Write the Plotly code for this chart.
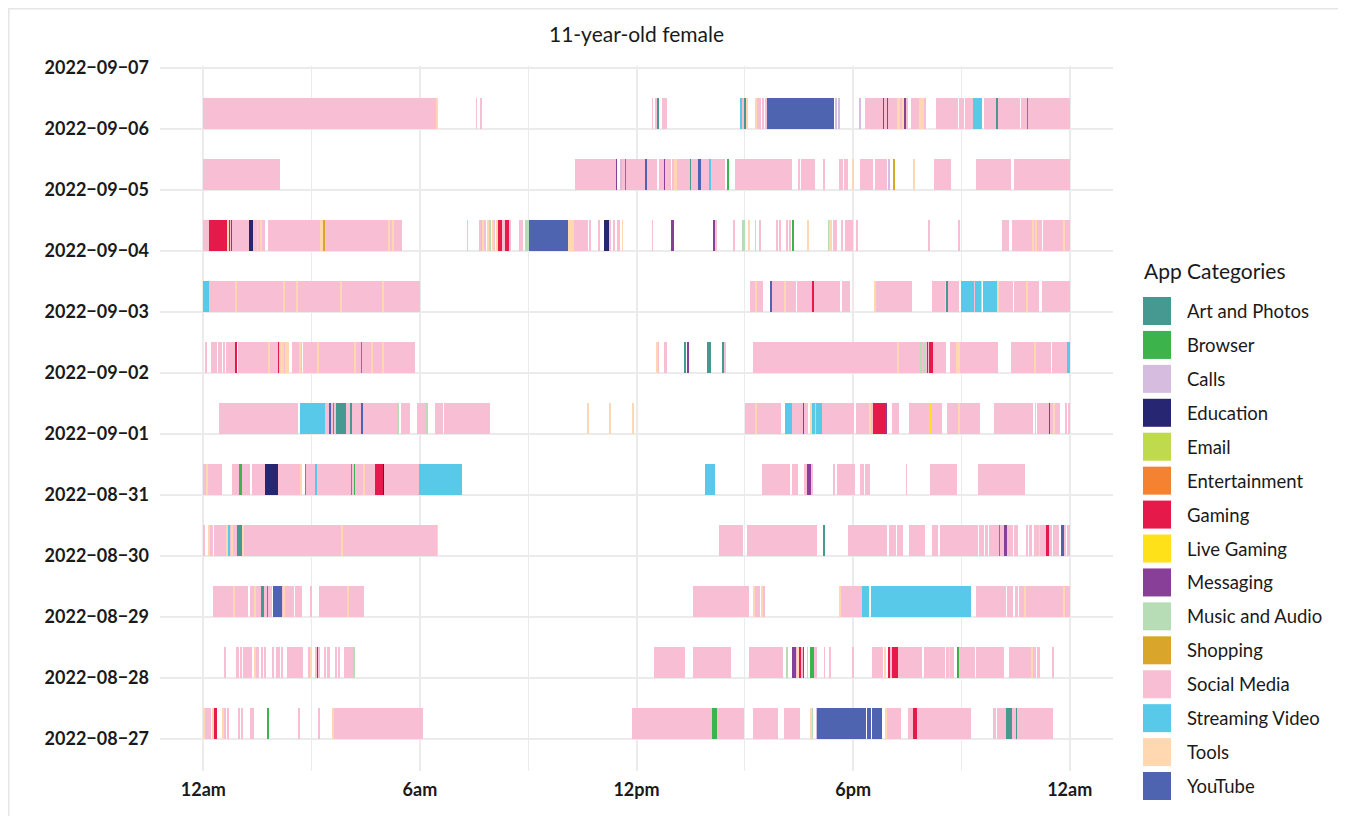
import plotly.graph_objects as go

# ---------------- data ----------------
days = ["2022-08-27", "2022-08-28", "2022-08-29", "2022-08-30", "2022-08-31",
        "2022-09-01", "2022-09-02", "2022-09-03", "2022-09-04", "2022-09-05",
        "2022-09-06"]
tick_dates = days + ["2022-09-07"]

categories = ["Art and Photos", "Browser", "Calls", "Education", "Email",
              "Entertainment", "Gaming", "Live Gaming", "Messaging",
              "Music and Audio", "Shopping", "Social Media", "Streaming Video",
              "Tools", "YouTube"]
codes = ["AP", "BR", "CA", "ED", "EM", "EN", "GA", "LG", "ME", "MU", "SH",
         "SM", "SV", "TO", "YT"]
colors = ["#469990", "#3cb44b", "#d6bcdf", "#262672", "#bfdb4d", "#f58231",
          "#e6194b", "#ffe119", "#883f98", "#b7ddb7", "#d9a62b", "#f7bed4",
          "#58c9e8", "#ffd8b1", "#4e64b0"]

# (start hour, end hour, category code)
seg_0827 = [
    (0.00, 0.03, "TO"), (0.06, 0.08, "SM"), (0.11, 0.22, "SM"), (0.25, 0.28, "TO"),
    (0.28, 0.30, "EN"), (0.30, 0.39, "GA"), (0.53, 0.55, "TO"), (0.58, 0.61, "SM"),
    (0.66, 0.69, "SM"), (0.97, 1.00, "SM"), (1.05, 1.08, "SM"), (1.30, 1.33, "SM"),
    (1.36, 1.38, "SM"), (1.77, 1.83, "BR"), (2.63, 2.66, "SM"), (3.18, 3.24, "SM"),
    (3.57, 3.60, "TO"), (3.60, 6.09, "SM"),
    (11.88, 14.10, "SM"), (14.10, 14.24, "BR"), (14.24, 14.98, "SM"),
    (15.23, 15.92, "SM"), (16.09, 16.53, "SM"), (16.81, 16.84, "TO"),
    (16.84, 16.89, "MU"), (16.98, 17.00, "CA"), (17.00, 18.36, "YT"),
    (18.39, 18.50, "YT"), (18.53, 18.80, "YT"), (18.91, 18.94, "TO"),
    (18.94, 19.33, "SM"), (19.52, 19.66, "SM"), (19.66, 19.77, "GA"),
    (19.77, 21.27, "SM"), (21.87, 21.96, "SM"), (21.98, 22.23, "SM"),
    (22.23, 22.40, "AP"), (22.40, 22.51, "SM"), (22.51, 22.54, "AP"),
    (22.54, 23.53, "SM"),
]

seg_0828 = [
    (0.58, 0.61, "SM"), (0.91, 1.00, "SM"), (1.02, 1.05, "SM"), (1.11, 1.13, "SM"),
    (1.16, 1.36, "SM"), (1.41, 1.44, "TO"), (1.44, 1.55, "SM"), (1.61, 1.63, "SM"),
    (1.69, 1.72, "SM"), (1.91, 1.94, "SM"), (2.02, 2.13, "SM"), (2.16, 2.19, "SM"),
    (2.32, 2.35, "SM"), (2.38, 2.77, "SM"), (2.91, 2.93, "SM"), (2.96, 2.99, "TO"),
    (3.10, 3.13, "SM"), (3.13, 3.18, "GA"), (3.18, 3.24, "SM"), (3.35, 3.40, "SM"),
    (3.43, 3.51, "SM"), (3.65, 3.68, "SM"), (3.74, 3.76, "SM"), (3.90, 4.15, "SM"),
    (4.15, 4.18, "MU"),
    (12.49, 13.35, "SM"), (13.57, 14.62, "SM"), (15.12, 16.06, "SM"),
    (16.15, 16.20, "MU"), (16.31, 16.34, "ME"), (16.34, 16.37, "GA"),
    (16.37, 16.42, "ME"), (16.42, 16.45, "SM"), (16.45, 16.48, "TO"),
    (16.50, 16.56, "GA"), (16.56, 16.59, "SM"), (16.59, 16.64, "ME"),
    (16.73, 16.75, "SM"), (16.81, 16.92, "BR"), (16.92, 16.95, "SM"),
    (16.98, 17.00, "SM"), (17.20, 17.22, "SM"), (17.36, 17.39, "SM"),
    (17.97, 18.00, "SM"), (18.53, 18.83, "SM"), (18.86, 18.91, "TO"),
    (18.97, 19.05, "GA"), (19.05, 19.08, "SM"), (19.08, 19.24, "GA"),
    (19.24, 19.91, "SM"), (19.96, 20.55, "SM"), (20.57, 20.66, "SM"),
    (20.66, 20.68, "TO"), (20.68, 20.79, "SM"), (20.88, 20.91, "AP"),
    (20.91, 20.93, "BR"), (20.93, 21.38, "SM"), (21.40, 22.18, "SM"),
    (22.32, 22.93, "SM"), (22.93, 22.98, "TO"), (23.01, 23.06, "SM"),
    (23.09, 23.17, "SM"), (23.53, 23.56, "SM"),
]

seg_0829 = [
    (0.28, 0.83, "SM"), (0.83, 0.86, "TO"), (0.86, 1.25, "SM"), (1.30, 1.41, "SM"),
    (1.41, 1.44, "TO"), (1.44, 1.61, "SM"), (1.61, 1.69, "AP"), (1.69, 1.77, "SM"),
    (1.77, 1.80, "AP"), (1.80, 1.91, "SM"), (1.94, 2.19, "YT"), (2.19, 2.21, "SM"),
    (2.21, 2.24, "TO"), (2.24, 2.52, "SM"), (2.55, 2.74, "SM"), (2.96, 2.99, "SM"),
    (3.21, 3.99, "SM"), (3.99, 4.01, "TO"), (4.01, 4.46, "SM"),
    (13.57, 15.12, "SM"), (15.23, 15.26, "TO"), (15.26, 15.43, "SM"),
    (15.45, 15.51, "TO"), (15.51, 15.54, "SM"), (17.61, 17.64, "TO"),
    (17.64, 18.25, "SM"), (18.25, 18.44, "SV"), (18.50, 21.27, "SV"),
    (21.40, 22.23, "SM"), (22.26, 22.37, "SM"), (22.40, 22.43, "SM"),
    (22.48, 22.57, "SM"), (22.59, 22.76, "SM"), (22.76, 22.79, "TO"),
    (22.79, 23.84, "SM"), (23.84, 23.87, "TO"), (23.87, 23.95, "SM"),
    (23.97, 24.00, "SM"),
]

seg_0830 = [
    (0.00, 0.03, "SM"), (0.14, 0.17, "TO"), (0.17, 0.19, "SM"), (0.22, 0.25, "SM"),
    (0.30, 0.64, "SM"), (0.64, 0.66, "TO"), (0.69, 0.72, "SV"), (0.72, 0.77, "SM"),
    (0.77, 0.80, "TO"), (0.80, 0.94, "SM"), (0.94, 1.08, "AP"), (1.08, 1.11, "TO"),
    (1.11, 3.82, "SM"), (3.82, 3.85, "TO"), (3.85, 6.48, "SM"), (6.48, 6.50, "TO"),
    (14.29, 14.96, "SM"), (15.07, 17.00, "SM"), (17.17, 17.20, "AP"),
    (17.86, 18.94, "SM"), (19.00, 19.19, "SM"), (19.22, 19.38, "SM"),
    (19.55, 19.99, "SM"), (20.19, 20.35, "SM"), (20.41, 21.46, "SM"),
    (21.49, 21.62, "SM"), (21.65, 21.74, "SM"), (21.76, 22.04, "SM"),
    (22.04, 22.07, "AP"), (22.07, 22.18, "SM"), (22.18, 22.26, "ME"),
    (22.26, 22.43, "SM"), (22.46, 22.57, "SM"), (22.81, 22.84, "SM"),
    (22.90, 22.95, "SM"), (23.01, 23.09, "SM"), (23.12, 23.15, "SM"),
    (23.15, 23.17, "TO"), (23.17, 23.34, "SM"), (23.34, 23.42, "GA"),
    (23.42, 23.51, "SM"), (23.53, 23.65, "SM"), (23.67, 23.70, "SM"),
    (23.76, 23.84, "YT"), (23.84, 23.89, "SM"), (23.92, 24.00, "SM"),
]

seg_0831 = [
    (0.00, 0.08, "SM"), (0.08, 0.11, "TO"), (0.11, 0.53, "SM"), (0.80, 1.00, "SM"),
    (1.00, 1.08, "BR"), (1.08, 1.30, "SM"), (1.36, 1.72, "SM"), (1.72, 2.08, "ED"),
    (2.08, 2.68, "SM"), (2.68, 2.71, "TO"), (2.82, 2.85, "BR"), (2.85, 2.88, "SM"),
    (2.88, 2.91, "BR"), (2.91, 3.10, "SM"), (3.10, 3.16, "SV"), (3.16, 4.10, "SM"),
    (4.10, 4.12, "BR"), (4.12, 4.18, "SM"), (4.18, 4.21, "BR"), (4.21, 4.43, "SM"),
    (4.43, 4.46, "TO"), (4.46, 4.76, "SM"), (4.76, 4.98, "GA"), (4.98, 5.01, "ED"),
    (5.01, 5.04, "SM"), (5.04, 5.06, "GA"), (5.06, 5.98, "SM"), (5.98, 7.17, "SV"),
    (13.90, 14.18, "SV"), (15.48, 16.26, "SM"), (16.31, 16.48, "SM"),
    (16.64, 16.73, "SM"), (16.73, 16.84, "ME"), (16.84, 16.87, "SM"),
    (17.47, 17.50, "SM"), (17.56, 18.05, "SM"), (18.19, 18.30, "SM"),
    (18.33, 18.41, "SM"), (18.41, 18.44, "ME"), (18.44, 18.47, "SM"),
    (19.47, 19.49, "SM"), (20.13, 20.88, "SM"), (21.46, 22.76, "SM"),
]

seg_0901 = [
    (0.44, 2.63, "SM"), (2.68, 3.38, "SV"), (3.38, 3.49, "SM"), (3.49, 3.54, "YT"),
    (3.54, 3.60, "SM"), (3.60, 3.63, "BR"), (3.63, 3.65, "SM"), (3.65, 3.96, "AP"),
    (3.96, 4.07, "SM"), (4.07, 4.12, "AP"), (4.12, 4.37, "SM"), (4.37, 4.40, "YT"),
    (4.40, 5.37, "SM"), (5.37, 5.42, "MU"), (5.48, 5.73, "SM"), (5.92, 6.17, "SM"),
    (6.17, 6.20, "MU"), (6.42, 6.64, "SM"), (6.67, 7.94, "SM"), (10.65, 10.68, "TO"),
    (11.26, 11.29, "TO"), (11.90, 11.93, "TO"),
    (15.01, 15.31, "SM"), (15.31, 15.34, "TO"), (15.34, 16.01, "SM"),
    (16.12, 16.31, "SV"), (16.31, 16.62, "SM"), (16.62, 16.64, "ME"),
    (16.64, 16.67, "SM"), (16.67, 16.70, "ME"), (16.70, 16.73, "SM"),
    (16.81, 16.84, "TO"), (16.84, 16.95, "SV"), (16.95, 16.98, "SM"),
    (16.98, 17.14, "SV"), (17.14, 18.03, "SM"), (18.08, 18.44, "SM"),
    (18.44, 18.50, "TO"), (18.50, 18.55, "SM"), (18.55, 18.88, "GA"),
    (18.88, 18.94, "ME"), (19.08, 19.27, "SM"), (19.55, 20.10, "SM"),
    (20.10, 20.16, "LG"), (20.16, 20.46, "SM"), (20.60, 20.91, "SM"),
    (20.91, 20.96, "TO"), (20.96, 21.51, "SM"), (21.90, 22.98, "SM"),
    (23.04, 23.06, "SM"), (23.09, 23.42, "SM"), (23.42, 23.48, "GA"),
    (23.48, 23.53, "SM"), (23.56, 23.59, "TO"), (23.59, 23.73, "SM"),
    (23.89, 23.92, "SM"), (23.98, 24.00, "SM"),
]

seg_0902 = [
    (0.06, 0.11, "SM"), (0.22, 0.39, "SM"), (0.42, 0.53, "SM"), (0.55, 0.61, "SM"),
    (0.64, 0.89, "SM"), (0.89, 0.94, "GA"), (0.97, 1.80, "SM"), (1.80, 1.83, "TO"),
    (1.83, 2.08, "SM"), (2.08, 2.10, "GA"), (2.10, 2.13, "SM"), (2.13, 2.16, "TO"),
    (2.16, 2.19, "SM"), (2.19, 2.22, "TO"), (2.22, 2.25, "SM"), (2.25, 2.38, "TO"),
    (2.46, 2.66, "SM"), (2.66, 2.68, "TO"), (2.68, 2.74, "SM"), (2.77, 3.15, "SM"),
    (3.15, 3.18, "TO"), (3.18, 4.18, "SM"), (4.18, 4.21, "TO"), (4.21, 4.37, "SM"),
    (4.37, 4.40, "AP"), (4.40, 4.65, "SM"), (4.65, 4.68, "TO"), (4.68, 4.95, "SM"),
    (4.95, 4.98, "TO"), (4.98, 5.87, "SM"),
    (12.55, 12.57, "TO"), (12.57, 12.63, "SM"), (12.77, 12.85, "SM"),
    (13.32, 13.35, "AP"), (13.41, 13.43, "ME"), (13.96, 13.99, "AP"),
    (14.01, 14.04, "AP"), (14.37, 14.40, "AP"), (14.43, 14.48, "SM"),
    (15.23, 15.26, "SM"), (15.29, 19.23, "SM"), (19.23, 19.25, "TO"),
    (19.25, 19.86, "SM"), (19.86, 19.92, "MU"), (19.92, 19.95, "SM"),
    (19.95, 20.00, "MU"), (20.00, 20.03, "SM"), (20.03, 20.08, "GA"),
    (20.08, 20.10, "SM"), (20.10, 20.21, "GA"), (20.21, 20.57, "SM"),
    (20.68, 20.86, "SM"), (20.86, 20.89, "TO"), (20.89, 20.93, "SM"),
    (20.93, 20.96, "TO"), (20.96, 22.01, "SM"), (22.37, 23.02, "SM"),
    (23.02, 23.05, "TO"), (23.05, 23.48, "SM"), (23.51, 23.95, "SM"),
    (23.95, 24.00, "SV"),
]

seg_0903 = [
    (0.00, 0.17, "SV"), (0.17, 0.89, "SM"), (0.89, 0.91, "TO"), (0.91, 2.22, "SM"),
    (2.22, 2.25, "TO"), (2.25, 2.58, "SM"), (2.58, 2.61, "TO"), (2.61, 3.80, "SM"),
    (3.80, 3.83, "TO"), (3.83, 4.96, "SM"), (4.96, 4.99, "TO"), (4.99, 6.00, "SM"),
    (15.14, 15.31, "SM"), (15.31, 15.33, "TO"), (15.33, 15.51, "SM"),
    (15.69, 15.76, "YT"), (15.76, 16.10, "SM"), (16.10, 16.13, "TO"),
    (16.13, 16.42, "SM"), (16.45, 16.86, "SM"), (16.86, 16.92, "GA"),
    (16.92, 17.64, "SM"), (17.69, 17.92, "SM"), (18.58, 18.61, "TO"),
    (18.61, 19.63, "SM"), (20.19, 20.55, "SM"), (20.55, 20.57, "TO"),
    (20.57, 20.63, "AP"), (20.63, 20.93, "SM"), (20.99, 21.35, "SV"),
    (21.35, 21.38, "SM"), (21.38, 21.54, "SV"), (21.54, 21.57, "SM"),
    (21.60, 21.98, "SV"), (21.98, 22.01, "SM"), (22.01, 22.04, "TO"),
    (22.04, 22.43, "SM"), (22.46, 22.81, "SM"), (22.81, 22.84, "TO"),
    (22.84, 23.15, "SM"), (23.23, 24.00, "SM"),
]

seg_0904 = [
    (0.00, 0.03, "SM"), (0.06, 0.17, "SM"), (0.17, 0.66, "GA"), (0.66, 0.69, "TO"),
    (0.71, 0.74, "GA"), (0.74, 0.76, "SM"), (0.76, 0.80, "GA"), (0.80, 1.27, "SM"),
    (1.27, 1.38, "ED"), (1.38, 1.49, "SM"), (1.49, 1.51, "TO"), (1.51, 1.59, "SM"),
    (1.59, 1.61, "TO"), (1.61, 1.72, "SM"), (1.80, 3.24, "SM"), (3.24, 3.32, "TO"),
    (3.32, 3.38, "SH"), (3.38, 3.40, "SM"), (3.40, 3.43, "SH"), (3.43, 5.12, "SM"),
    (5.12, 5.15, "TO"), (5.15, 5.24, "SM"), (5.24, 5.27, "TO"), (5.27, 5.51, "SM"),
    (7.31, 7.33, "SM"), (7.64, 7.67, "SM"), (7.67, 7.72, "MU"), (7.72, 7.75, "TO"),
    (7.80, 7.83, "SM"), (7.86, 7.89, "TO"), (7.92, 7.97, "MU"), (8.00, 8.03, "TO"),
    (8.05, 8.08, "SM"), (8.11, 8.14, "TO"), (8.16, 8.27, "GA"), (8.27, 8.36, "SM"),
    (8.36, 8.47, "GA"), (8.47, 8.52, "SM"), (8.75, 8.86, "SM"), (8.91, 9.02, "MU"),
    (9.02, 10.10, "YT"), (10.10, 10.27, "TO"), (10.27, 10.65, "SM"),
    (10.68, 10.74, "SM"), (10.96, 10.99, "SM"), (11.10, 11.24, "ED"),
    (11.26, 11.29, "SM"), (11.35, 11.40, "SM"), (11.46, 11.54, "SM"),
    (11.60, 11.62, "TO"),
    (12.43, 12.45, "SM"), (12.96, 13.04, "ME"), (14.14, 14.18, "ME"),
    (14.20, 14.23, "SM"), (14.68, 14.71, "SM"), (14.95, 15.00, "MU"),
    (15.11, 15.14, "TO"), (15.29, 15.31, "SM"), (15.42, 15.45, "SM"),
    (15.89, 15.91, "SM"), (15.97, 16.01, "SM"), (16.16, 16.21, "SM"),
    (16.23, 16.27, "SM"), (16.33, 16.37, "BR"), (16.72, 16.78, "TO"),
    (17.31, 17.36, "MU"), (17.36, 17.41, "TO"), (17.44, 17.56, "SM"),
    (17.69, 17.72, "SM"), (17.78, 18.00, "SM"), (18.08, 18.14, "SM"),
    (20.09, 20.13, "SM"), (20.92, 20.96, "SM"), (22.12, 22.32, "SM"),
    (22.40, 22.96, "SM"), (22.96, 22.99, "TO"), (22.99, 23.05, "SM"),
    (23.05, 23.07, "TO"), (23.07, 23.23, "SM"), (23.26, 23.84, "SM"),
    (23.84, 23.87, "TO"), (23.87, 24.00, "SM"),
]

seg_0905 = [
    (0.00, 2.13, "SM"), (10.30, 11.43, "SM"), (11.43, 11.47, "ME"),
    (11.54, 11.60, "CA"), (11.60, 11.68, "SM"), (11.68, 11.71, "AP"),
    (11.71, 12.24, "SM"), (12.24, 12.27, "YT"), (12.27, 12.57, "SM"),
    (12.63, 12.77, "SM"), (12.77, 12.80, "ME"), (12.80, 12.96, "SM"),
    (12.99, 13.05, "SM"), (13.05, 13.13, "TO"), (13.13, 13.49, "SM"),
    (13.49, 13.52, "AP"), (13.52, 13.71, "SM"), (13.71, 13.79, "YT"),
    (13.79, 14.01, "SM"), (14.01, 14.04, "SV"), (14.04, 14.46, "SM"),
    (14.53, 14.57, "BR"), (14.73, 16.31, "SM"), (16.48, 16.53, "SM"),
    (16.56, 16.95, "SM"), (17.17, 17.20, "SM"), (17.61, 17.72, "SM"),
    (17.75, 17.86, "SM"), (17.97, 18.00, "TO"), (18.19, 18.55, "SM"),
    (18.61, 18.94, "SM"), (18.97, 19.00, "CA"), (19.11, 19.16, "SH"),
    (19.66, 19.69, "TO"), (20.24, 20.71, "SM"), (21.40, 22.37, "SM"),
    (22.46, 24.00, "SM"),
]

seg_0906 = [
    (0.00, 6.47, "SM"), (6.47, 6.50, "TO"), (7.56, 7.58, "SM"), (7.68, 7.71, "SM"),
    (12.43, 12.45, "SM"), (12.51, 12.57, "SM"), (12.57, 12.63, "AP"),
    (12.71, 12.85, "SM"), (14.87, 14.90, "SV"), (14.90, 14.98, "SM"),
    (14.98, 15.03, "AP"), (15.04, 15.07, "TO"), (15.31, 15.34, "TO"),
    (15.34, 15.45, "SM"), (15.48, 15.54, "SM"), (15.58, 15.61, "SM"),
    (15.62, 17.47, "YT"), (17.52, 17.55, "CA"), (17.60, 17.63, "CA"),
    (18.17, 18.22, "CA"), (18.33, 18.83, "SM"), (18.83, 18.88, "ME"),
    (18.88, 18.93, "SM"), (18.93, 18.97, "ME"), (18.97, 19.23, "SM"),
    (19.23, 19.29, "TO"), (19.29, 19.36, "SM"), (19.36, 19.41, "TO"),
    (19.41, 19.47, "ME"), (19.47, 19.51, "SM"), (19.60, 19.83, "SM"),
    (19.83, 19.96, "TO"), (19.96, 20.02, "SM"), (20.30, 20.91, "SM"),
    (20.93, 21.07, "SM"), (21.10, 21.32, "SM"), (21.32, 21.57, "SV"),
    (21.62, 21.96, "SM"), (21.96, 22.01, "AP"), (22.01, 22.62, "SM"),
    (22.65, 22.81, "SM"), (22.81, 22.84, "AP"), (22.84, 24.00, "SM"),
]

day_segments = [seg_0827, seg_0828, seg_0829, seg_0830, seg_0831, seg_0901,
                seg_0902, seg_0903, seg_0904, seg_0905, seg_0906]

hour_ticks = [0, 6, 12, 18, 24]
hour_labels = ["12am", "6am", "12pm", "6pm", "12am"]
minor_hours = [3, 9, 15, 21]

# ---------------- figure ----------------
# the page body adds an 8px margin, so the figure is sized/placed to compensate
OFF = 8
W, H = 1346 - OFF, 816 - OFF
ML, MR, MT, MB = 152, 233, 58, 45
PW, PH = W - ML - MR, H - MT - MB
FONT = "Lato, 'Open Sans', sans-serif"
HALF_DAY_MS = 12 * 3600 * 1000

fig = go.Figure()
for code, name, color in zip(codes, categories, colors):
    ys, bases, lens = [], [], []
    for d, segs in zip(days, day_segments):
        for s, e, c in segs:
            if c == code:
                ys.append(d)
                bases.append(s)
                lens.append(e - s)
    fig.add_trace(go.Bar(
        y=ys, x=lens, base=bases, orientation="h", name=name,
        width=HALF_DAY_MS, offset=0,
        marker=dict(color=color, line=dict(width=0)),
        showlegend=False, hoverinfo="skip",
    ))


def px_x(px):
    """page pixel x -> paper coordinate"""
    return (px - OFF - ML) / PW


def px_y(py):
    """page pixel y -> paper coordinate"""
    return (H - MB - (py - OFF)) / PH


shapes = []
annotations = []
# legend (drawn manually to match the original key layout)
annotations.append(dict(
    x=px_x(1142), y=px_y(270), xref="paper", yref="paper", text="App Categories",
    showarrow=False, xanchor="left", yanchor="middle",
    font=dict(family=FONT, size=21, color="#1a1a1a")))
for i, (name, color) in enumerate(zip(categories, colors)):
    cy = 311 + i * 33.93
    shapes.append(dict(type="rect", xref="paper", yref="paper",
                       x0=px_x(1143), x1=px_x(1171), y0=px_y(cy - 14), y1=px_y(cy + 14),
                       fillcolor=color, line=dict(width=0), layer="above"))
    annotations.append(dict(
        x=px_x(1185), y=px_y(cy), xref="paper", yref="paper", text=name,
        showarrow=False, xanchor="left", yanchor="middle",
        font=dict(family=FONT, size=18.5, color="#1a1a1a")))

# outer frame of the page
shapes.append(dict(type="rect", xref="paper", yref="paper",
                   x0=px_x(8.5), x1=px_x(1339), y0=px_y(830), y1=px_y(8.5),
                   line=dict(color="#e6e6e6", width=2), fillcolor="rgba(0,0,0,0)",
                   layer="below"))

fig.update_layout(
    width=W, height=H,
    margin=dict(l=ML, r=MR, t=MT, b=MB, pad=0),
    paper_bgcolor="white", plot_bgcolor="white",
    barmode="overlay", bargap=0,
    font=dict(family=FONT, color="#1a1a1a"),
    title=dict(text="11-year-old female", x=0.5, xref="paper", xanchor="center",
               y=1 - (35 - OFF) / H, yref="container", yanchor="middle",
               font=dict(family=FONT, size=21, color="#1a1a1a")),
    shapes=shapes, annotations=annotations,
    showlegend=False,
)

fig.update_xaxes(
    range=[-1.2, 25.2], tickvals=hour_ticks, ticktext=hour_labels,
    showgrid=True, gridcolor="#ebebeb", gridwidth=1.5, zeroline=False,
    showline=False, ticks="", ticklabelstandoff=6,
    tickfont=dict(family=FONT, size=18, color="#1a1a1a", weight="bold"),
    minor=dict(tickvals=minor_hours, showgrid=True, gridcolor="#ebebeb",
               gridwidth=1.2, ticks=""),
)
fig.update_yaxes(
    type="date", range=["2022-08-26 11:24", "2022-09-07 00:36"],
    tickvals=tick_dates, tickformat="%Y\u2212%m\u2212%d",
    showgrid=True, gridcolor="#ebebeb", gridwidth=1.5, zeroline=False,
    showline=False, ticks="", ticklabelstandoff=10,
    tickfont=dict(family=FONT, size=18, color="#1a1a1a", weight="bold"),
)

fig.write_html("out.html")
